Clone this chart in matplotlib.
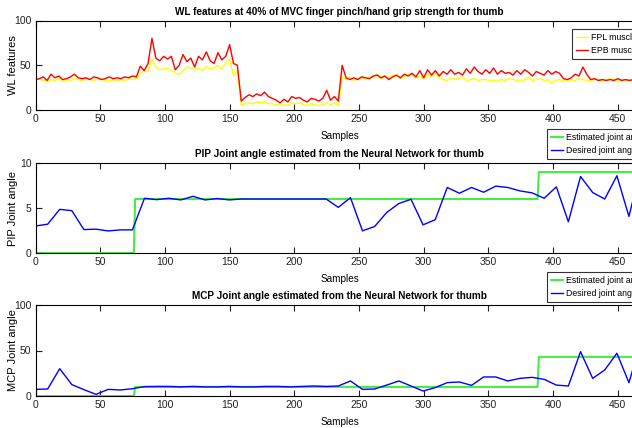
import numpy as np
import matplotlib
matplotlib.use('Agg')
from matplotlib import pyplot as plt

plt.rcParams['font.family'] = ['Liberation Sans Narrow', 'Liberation Sans', 'DejaVu Sans']

wl_samples = np.arange(0, 468, 3)
epb = [34, 35, 37, 33, 40, 36, 38, 34, 35, 37, 40, 36, 35, 36, 34, 37, 36, 34, 35, 37, 35, 36, 35, 37, 36, 38,
       37, 49, 44, 52, 80, 58, 55, 60, 57, 60, 45, 50, 62, 54, 58, 48, 60, 56, 65, 55, 52, 64, 56, 60, 73, 52, 50,
       10, 14, 17, 15, 18, 16, 20, 15, 13, 11, 8, 12, 9, 15, 13, 14, 11, 9, 13, 12, 10, 13, 22, 11, 15, 10,
       50, 36, 34, 36, 34, 37, 36, 35, 38, 39, 36, 38, 34, 37, 39, 36, 40, 38, 41, 37,
       44, 36, 45, 39, 44, 38, 43, 40, 45, 40, 42, 39, 46, 41, 48, 43, 40, 45, 41, 47,
       40, 44, 41, 42, 39, 44, 40, 45, 42, 38, 43, 41, 39, 44, 40, 43, 41, 35, 34, 36,
       40, 38, 48, 40, 34, 35, 33, 34, 33, 34, 33, 35, 33, 34, 33, 34, 33]
fpl = [33, 35, 33, 32, 34, 33, 35, 32, 34, 33, 35, 34, 33, 35, 34, 33, 35, 34, 33, 32, 34, 33, 34, 33, 35, 34,
       35, 41, 44, 43, 57, 48, 45, 46, 47, 44, 41, 40, 44, 48, 47, 45, 47, 44, 49, 46, 47, 50, 46, 53, 57, 38, 44,
       5, 7, 8, 7, 9, 8, 9, 7, 7, 6, 5, 6, 5, 8, 7, 8, 6, 5, 7, 6, 5, 6, 8, 6, 8, 5,
       37, 34, 37, 33, 35, 36, 34, 37, 36, 40, 35, 37, 36, 39, 38, 35, 37, 40, 39, 36,
       38, 35, 40, 37, 42, 36, 34, 33, 36, 34, 35, 37, 33, 34, 35, 33, 34, 34, 33, 33,
       32, 34, 33, 35, 34, 33, 32, 34, 36, 33, 34, 35, 33, 34, 30, 33, 34, 32, 33, 34,
       33, 35, 34, 33, 32, 35, 34, 33, 34, 35, 34, 33, 34, 33, 34, 33, 34]

# desired joint angles (sparse points)
desired_x = [0, 9.4, 18.7, 28.1, 37.4, 46.8, 56.2, 65.5, 74.9, 84.2, 93.6, 103, 112.3, 121.7, 131, 140.4,
             149.8, 159.1, 168.5, 177.8, 187.2, 196.6, 205.9, 215.3, 224.6, 234, 243.4, 252.7, 262.1, 271.4,
             280.8, 290.2, 299.5, 308.9, 318.2, 327.6, 337, 346.3, 355.7, 365, 374.4, 383.8, 393.1, 402.5,
             411.8, 421.2, 430.6, 439.9, 449.3, 458.6, 468]
pip_desired = [3.0, 3.2, 4.85, 4.7, 2.6, 2.65, 2.45, 2.57, 2.57, 6.08, 5.93, 6.08, 5.9, 6.3, 5.9, 6.05, 5.9,
               6.0, 6.0, 6.0, 6.0, 6.0, 6.0, 6.0, 6.0, 5.07, 6.15, 2.46, 2.95, 4.5, 5.5, 5.97, 3.13, 3.7,
               7.28, 6.64, 7.28, 6.75, 7.43, 7.28, 6.9, 6.68, 6.08, 7.35, 3.47, 8.5, 6.72, 6.0, 8.58, 4.07, 9.5]
mcp_desired = [7.3, 7.7, 30, 12.5, 7, 1.8, 7.3, 6.6, 8, 10.3, 10.5, 10.5, 10, 10.5, 10, 10, 10.5, 10, 10,
               10.5, 10.5, 10, 10.5, 11, 10.5, 11, 16.5, 7.3, 7.7, 12, 16.5, 11, 5.5, 9.2, 14.7, 15.4, 11.7,
               20.9, 20.9, 16.5, 19.4, 20.5, 18.3, 12, 11, 48.7, 19.4, 28.6, 47, 14.7, 60]

# estimated joint angles (steps)
est_x = [0, 76, 77, 388, 389, 470]
pip_est = [0, 0, 6, 6, 9, 9]
mcp_est = [0, 0, 10, 10, 43, 43]

W, H = 632, 428
fig = plt.figure(figsize=(W / 100, H / 100), dpi=100)

def make_ax(top, bottom):
    left = 35.5 / W
    width = 470 * 1.294 / W
    ax = fig.add_axes([left, 1 - bottom / H, width, (bottom - top) / H])
    ax.set_xlim(0, 470)
    ax.set_xticks(np.arange(0, 460, 50))
    ax.tick_params(direction='in', top=True, right=True, length=4, width=0.8,
                   labelsize=7.5, pad=3, colors='#222222')
    for s in ax.spines.values():
        s.set_linewidth(0.8)
    ax.set_xlabel('Samples', fontsize=7.2, labelpad=5)
    return ax

grn = '#44ee44'
title_kw = dict(fontsize=7.2, fontweight='bold', pad=4)
ylab_kw = dict(fontsize=8, family='Liberation Sans')

ax1 = make_ax(20.5, 110)
ax1.plot(wl_samples, fpl, color='#ffff00', lw=1, label='FPL muscle')
ax1.plot(wl_samples, epb, color='#ff0000', lw=1, label='EPB muscle')
ax1.set_ylim(0, 100)
ax1.set_yticks([0, 50, 100])
ax1.set_title('WL features at 40% of MVC finger pinch/hand grip strength for thumb', **title_kw)
ax1.set_ylabel('WL features', **ylab_kw)

ax2 = make_ax(163, 253)
ax2.plot(est_x, pip_est, color=grn, lw=1.5, label='Estimated joint angle')
ax2.plot(desired_x, pip_desired, color='#0000ff', lw=1, label='Desired joint angle')
ax2.set_ylim(0, 10)
ax2.set_yticks([0, 5, 10])
ax2.set_title('PIP Joint angle estimated from the Neural Network for thumb', **title_kw)
ax2.set_ylabel('PIP Joint angle', **ylab_kw)

ax3 = make_ax(305, 396)
ax3.plot(est_x, mcp_est, color=grn, lw=1.5, label='Estimated joint angle')
ax3.plot(desired_x, mcp_desired, color='#0000ff', lw=1, label='Desired joint angle')
ax3.set_ylim(0, 100)
ax3.set_yticks([0, 50, 100])
ax3.set_title('MCP Joint angle estimated from the Neural Network for thumb', **title_kw)
ax3.set_ylabel('MCP Joint angle', **ylab_kw)

for ax in (ax1, ax2, ax3):
    ax.yaxis.set_label_coords(-0.029, 0.5)

leg_kw = dict(loc='upper left', bbox_transform=fig.transFigure, fontsize=6.3, fancybox=False,
              edgecolor='#333333', framealpha=1, handlelength=1.4, handletextpad=0.3,
              borderpad=0.45, labelspacing=0.45, borderaxespad=0)
for ax, (lx, ly) in [(ax1, (572, 29)), (ax2, (547, 129)), (ax3, (547, 272))]:
    lg = ax.legend(bbox_to_anchor=(lx / W, 1 - ly / H), **leg_kw)
    lg.get_frame().set_linewidth(0.8)

fig.savefig('out.png', dpi=100)
